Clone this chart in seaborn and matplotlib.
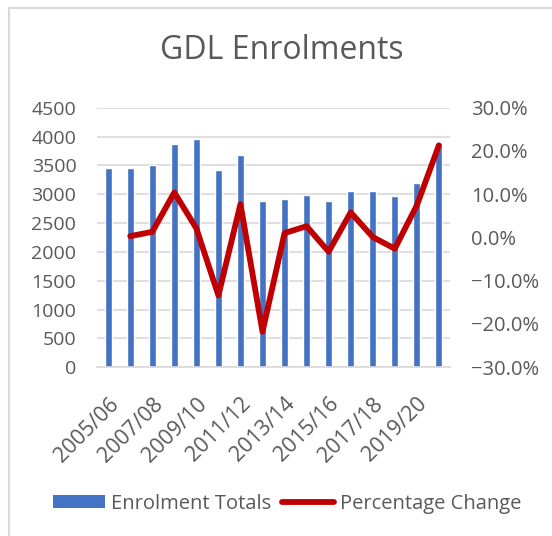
import numpy as np
import pandas as pd
import matplotlib
matplotlib.use('Agg')
import matplotlib.pyplot as plt
import seaborn as sns
from matplotlib.patches import Patch
from matplotlib.lines import Line2D
from matplotlib.ticker import PercentFormatter, MultipleLocator

years = ['2005/06', '2006/07', '2007/08', '2008/09', '2009/10', '2010/11',
         '2011/12', '2012/13', '2013/14', '2014/15', '2015/16', '2016/17',
         '2017/18', '2018/19', '2019/20', '2020/21']
enrolments = [3450, 3460, 3506, 3870, 3951, 3420, 3685, 2882,
              2911, 2986, 2888, 3056, 3056, 2974, 3200, 3882]
# percentage change from previous year (first year has none)
pct_change = [np.nan, 0.3, 1.3, 10.4, 2.1, -13.4, 7.7, -21.8,
              1.0, 2.6, -3.3, 5.8, 0.1, -2.6, 7.4, 21.3]

BLUE = '#4472C4'
RED = '#C00000'
GREY = '#595959'

sns.set_style('white')
plt.rcParams['font.family'] = ['Open Sans', 'DejaVu Sans']

df = pd.DataFrame({'year': years, 'total': enrolments, 'pct': pct_change})
df['pos'] = np.arange(len(df))

fig = plt.figure(figsize=(5.52, 5.36), dpi=100)
ax = fig.add_axes([0.176, 0.315, 0.639, 0.484])

sns.barplot(data=df, x='year', y='total', color=BLUE, width=0.32,
            saturation=1, ax=ax, zorder=2)
ax.set_xlim(-0.5, 15.5)
ax.set_ylim(0, 4500)
ax.yaxis.set_major_locator(MultipleLocator(500))
ax.grid(axis='y', color='#d9d9d9', lw=1.2, zorder=0)
ax.set_axisbelow(True)
ax.set_xlabel('')
ax.set_ylabel('')
for s in ['top', 'right', 'left']:
    ax.spines[s].set_visible(False)
ax.spines['bottom'].set_color('#d9d9d9')
ax.spines['bottom'].set_linewidth(1.2)
ax.set_xticks(df['pos'][::2])
ax.set_xticklabels(df['year'][::2], rotation=45, ha='right',
                   rotation_mode='anchor')
ax.tick_params(axis='y', length=0, labelsize=14, colors=GREY, pad=15)
ax.tick_params(axis='x', length=0, labelsize=15.5, colors=GREY, pad=19)

ax2 = ax.twinx()
sns.lineplot(data=df.dropna(), x='pos', y='pct', color=RED, lw=4.2, ax=ax2)
ax2.set_ylim(-30, 30)
ax2.set_xlim(-0.5, 15.5)
ax2.yaxis.set_major_locator(MultipleLocator(10))
ax2.yaxis.set_major_formatter(PercentFormatter(decimals=1))
ax2.set_xlabel('')
ax2.set_ylabel('')
for s in ax2.spines.values():
    s.set_visible(False)
ax2.tick_params(axis='y', length=0, labelsize=14.5, colors=GREY, pad=15)

fig.text(0.51, 0.905, 'GDL Enrolments', ha='center', va='center',
         fontsize=23, color=GREY)

handles = [Patch(facecolor=BLUE, edgecolor='none'),
           Line2D([0], [0], color=RED, lw=4.2)]
fig.legend(handles, ['Enrolment Totals', 'Percentage Change'],
           loc='center', bbox_to_anchor=(0.52, 0.06), ncol=2,
           frameon=False, fontsize=14.5, labelcolor=GREY,
           handlelength=2.6, handleheight=0.65, handletextpad=0.3,
           columnspacing=0.5)

# chart area border (left and top edges visible)
fig.add_artist(Line2D([9 / 552, 9 / 552, 1], [0, 1 - 8 / 536, 1 - 8 / 536],
                      transform=fig.transFigure, color='#d9d9d9', lw=1.5))

fig.savefig('out.png', dpi=100)
